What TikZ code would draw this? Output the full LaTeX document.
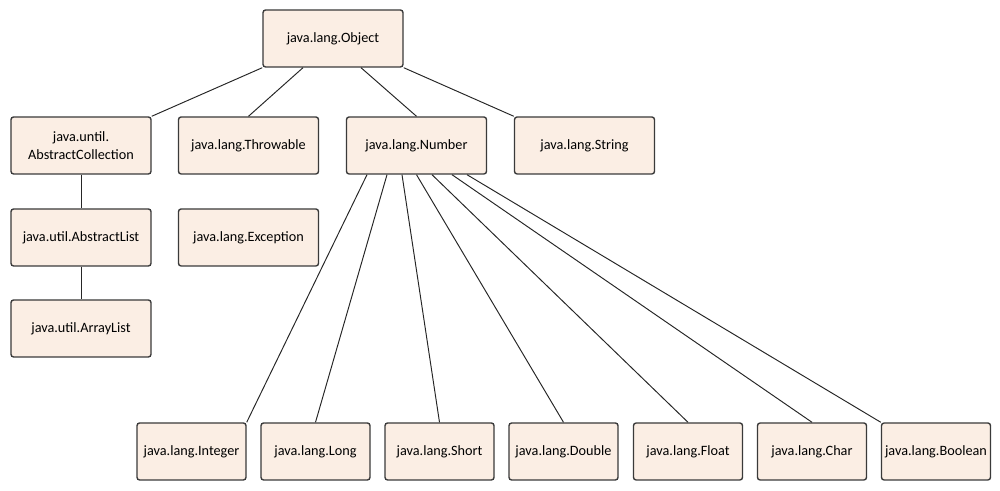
\documentclass[tikz,border=0pt]{standalone}
\usepackage{fontspec}
\setmainfont{Carlito}
\definecolor{boxfill}{HTML}{FBEEE4}
\definecolor{boxline}{HTML}{3A3A3A}
\begin{document}
\begin{tikzpicture}[
    cls/.style={draw=boxline,fill=boxfill,line width=0.8pt,rounded corners=1.5pt,
        minimum width=2.8cm,minimum height=1.14cm,inner sep=0pt,align=center,
        font=\fontsize{8.1}{10}\selectfont},
    leaf/.style={cls,minimum width=2.18cm},
    link/.style={draw=black!85,line width=0.55pt}]
    \useasboundingbox (0,0) rectangle (20,9.82);
    \node[cls] (obj) at (6.66,9.05) {java.lang.Object};
    \node[cls] (coll) at (1.62,6.91) {java.until.\\AbstractCollection};
    \node[cls] (thr) at (4.97,6.91) {java.lang.Throwable};
    \node[cls] (num) at (8.33,6.91) {java.lang.Number};
    \node[cls] (str) at (11.69,6.91) {java.lang.String};
    \node[cls] (alist) at (1.62,5.07) {java.util.AbstractList};
    \node[cls] (exc) at (4.97,5.07) {java.lang.Exception};
    \node[cls] (arr) at (1.62,3.25) {java.util.ArrayList};
    \node[leaf] (int) at (3.83,0.79) {java.lang.Integer};
    \node[leaf] (long) at (6.31,0.79) {java.lang.Long};
    \node[leaf] (short) at (8.79,0.79) {java.lang.Short};
    \node[leaf] (dbl) at (11.27,0.79) {java.lang.Double};
    \node[leaf] (flt) at (13.76,0.79) {java.lang.Float};
    \node[leaf] (chr) at (16.24,0.79) {java.lang.Char};
    \node[leaf] (bool) at (18.72,0.79) {java.lang.Boolean};
    \draw[link] (obj.south west) -- (coll.north east);
    \draw[link] ([xshift=-0.6cm]obj.south) -- (thr.north);
    \draw[link] ([xshift=0.56cm]obj.south) -- (num.north);
    \draw[link] (obj.south east) -- (str.north west);
    \draw[link] (coll) -- (alist);
    \draw[link] (alist) -- (arr);
    \draw[link] ([xshift=-0.99cm]num.south) -- (int.north east);
    \draw[link] ([xshift=-0.59cm]num.south) -- (long.north);
    \draw[link] ([xshift=-0.29cm]num.south) -- (short.north);
    \draw[link] (num.south) -- (dbl.north);
    \draw[link] ([xshift=0.31cm]num.south) -- (flt.north);
    \draw[link] ([xshift=0.71cm]num.south) -- (chr.north);
    \draw[link] ([xshift=1.01cm]num.south) -- (bool.north west);
\end{tikzpicture}
\end{document}
